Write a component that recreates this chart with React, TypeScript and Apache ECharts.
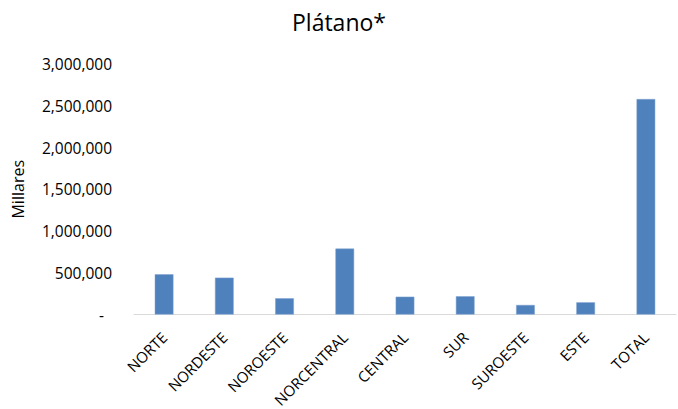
import React, { useEffect, useRef } from "react";
import * as echarts from "echarts";

const categories = ["NORTE", "NORDESTE", "NOROESTE", "NORCENTRAL", "CENTRAL", "SUR", "SUROESTE", "ESTE", "TOTAL"];
const values = [482000, 441000, 194000, 789000, 213000, 218000, 114000, 146000, 2580000];
const yTicks = [0, 500000, 1000000, 1500000, 2000000, 2500000, 3000000];

const FONT = "'Open Sans', 'Noto Sans', sans-serif";

export default function App() {
  const ref = useRef<HTMLDivElement>(null);
  useEffect(() => {
    document.body.style.margin = "0";
    const chart = echarts.init(ref.current!, undefined, { renderer: "svg" });
    chart.setOption({
      animation: false,
      backgroundColor: "#ffffff",
      title: {
        text: "Plátano*",
        left: "center",
        top: 5,
        textStyle: { fontFamily: FONT, fontSize: 23, fontWeight: "normal", color: "#000" },
      },
      grid: { left: 134, right: 2, top: 64, bottom: 94.5, containLabel: false, outerBoundsMode: "none" },
      xAxis: {
        type: "category",
        data: categories,
        axisLine: { lineStyle: { color: "#d9d9d9", width: 1 } },
        axisTick: { show: false },
        axisLabel: { rotate: 45, margin: 20, fontFamily: FONT, fontSize: 15, color: "#000", interval: 0 },
      },
      yAxis: {
        type: "value",
        min: yTicks[0],
        max: yTicks[yTicks.length - 1],
        interval: 500000,
        name: "Millares",
        nameLocation: "middle",
        nameGap: 108,
        nameTextStyle: { fontFamily: FONT, fontSize: 16, color: "#000" },
        splitLine: { show: false },
        axisLine: { show: false },
        axisTick: { show: false },
        axisLabel: {
          margin: 22,
          fontFamily: FONT,
          fontSize: 15.5,
          color: "#000",
          formatter: (v: number) => (v === 0 ? "{d|-}" : v.toLocaleString("en-US")),
          rich: { d: { fontFamily: FONT, fontSize: 15.5, color: "#000", padding: [0, 8, 0, 0] } },
        },
      },
      series: [
        {
          type: "bar",
          data: values,
          barWidth: "31%",
          itemStyle: { color: "#4f81bd", borderColor: "#7fa3d0", borderWidth: 0.5 },
        },
      ],
    });
    return () => chart.dispose();
  }, []);
  return <div ref={ref} style={{ width: 678, height: 409, position: "absolute", left: 0, top: 0 }} />;
}
